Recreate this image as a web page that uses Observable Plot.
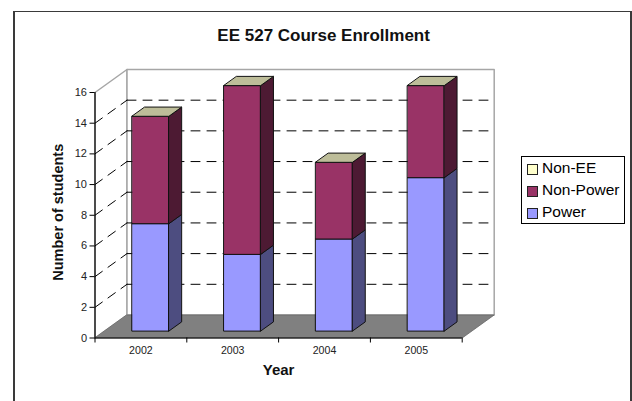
<!DOCTYPE html>
<html>
<head>
<meta charset="utf-8">
<style>
html,body{margin:0;padding:0;background:#fff;width:632px;height:401px;overflow:hidden}
#wrap{position:relative;width:632px;height:401px;font-family:"Liberation Sans",Arial,sans-serif}
#wrap svg{position:absolute;left:0;top:0;overflow:visible}
#border{position:absolute;left:13px;top:11px;width:615px;height:392px;border:2px solid #3a3a3a;border-top-width:1px}
#legend{position:absolute;left:521px;top:156px;width:102px;height:66px;border:1px solid #000;background:#fff;font-size:15.5px;color:#000}
#legend div{position:absolute;left:5px;white-space:nowrap;line-height:18px;height:18px}
#legend i{position:absolute;left:0;top:5px;width:9px;height:9px;border:1px solid #222}
#legend span{position:absolute;left:15px;top:0}
</style>
<script src="https://cdn.jsdelivr.net/npm/d3@7"></script>
<script src="https://cdn.jsdelivr.net/npm/@observablehq/plot@0.6"></script>
</head>
<body>
<div id="wrap"><div id="border"></div></div>
<script>
const years = ["2002", "2003", "2004", "2005"];
const power = [7, 5, 6, 10];
const nonPower = [7, 11, 5, 6];
const nonEE = [0, 0, 0, 0];
const yTicks = [0, 2, 4, 6, 8, 10, 12, 14, 16];
const gridTicks = [2, 4, 6, 8, 10, 12, 14];
const legendNames = ["Non-EE", "Non-Power", "Power"];

const series = [
  {name: "Power", values: power, front: "#9999FF", side: "#4D4D80"},
  {name: "Non-Power", values: nonPower, front: "#993366", side: "#4D1A33"},
  {name: "Non-EE", values: nonEE, front: "#FFFFCC", side: "#808066"}
];
const legendColors = ["#FFFFCC", "#993366", "#9999FF"];
const topColor = "#BDBD99";

// Oblique projection: depth d (0 front, 1 back) shifts in scale units.
const DX = 32 / 91.8, DY = 1.5;
const px = (u, d) => u + d * DX;
const py = (v, d) => v + d * DY;
const quad = (id, fill, pts) => pts.map(([u, v, d]) => ({id, fill, x: px(u, d), y: py(v, d)}));

const floor = quad("floor", "#808080", [[0,0,0],[4,0,0],[4,0,1],[0,0,1]]);
const walls = [
  ...quad("left", "#FFFFFF", [[0,0,0],[0,16,0],[0,16,1],[0,0,1]]),
  ...quad("back", "#FFFFFF", [[0,0,1],[0,16,1],[4,16,1],[4,0,1]])
];

const bars = [];
const B0 = 0.3, B1 = 0.7, D0 = 0.3, D1 = 0.7;
years.forEach((yr, i) => {
  let base = 0;
  const a = i + B0, b = i + B1;
  series.forEach(s => {
    const top = base + s.values[i];
    if (s.values[i] > 0) {
      bars.push(...quad(`${yr}-${s.name}-front`, s.front, [[a,base,D0],[b,base,D0],[b,top,D0],[a,top,D0]]));
      bars.push(...quad(`${yr}-${s.name}-side`, s.side, [[b,base,D0],[b,base,D1],[b,top,D1],[b,top,D0]]));
    }
    base = top;
  });
  bars.push(...quad(`${yr}-top`, topColor, [[a,base,D0],[b,base,D0],[b,base,D1],[a,base,D1]]));
});

const backGrid = gridTicks.flatMap(v => [[0, v, 1], [4, v, 1]].map(([u, w, d]) => ({id: v, x: px(u, d), y: py(w, d)})));
const sideGrid = gridTicks.flatMap(v => [[0, v, 0], [0, v, 1]].map(([u, w, d]) => ({id: v, x: px(u, d), y: py(w, d)})));

const chart = Plot.plot({
  width: 632, height: 401,
  marginLeft: 94.5, marginRight: 170.3, marginTop: 92, marginBottom: 63.5,
  style: {background: "transparent", fontFamily: '"Liberation Sans",Arial,sans-serif', overflow: "visible"},
  x: {domain: [0, 4]},
  y: {domain: [0, 16]},
  color: {type: "identity"},
  marks: [
    Plot.line(walls, {x: "x", y: "y", z: "id", fill: "fill", stroke: "#A6A6A6", strokeWidth: 1.5, curve: "linear-closed"}),
    Plot.line(backGrid, {x: "x", y: "y", z: "id", stroke: "#000", strokeWidth: 1, strokeDasharray: "9 7"}),
    Plot.line(sideGrid, {x: "x", y: "y", z: "id", stroke: "#000", strokeWidth: 1, strokeDasharray: "9 7"}),
    Plot.line(floor, {x: "x", y: "y", z: "id", fill: "fill", stroke: "#666", strokeWidth: 0.8, curve: "linear-closed"}),
    Plot.line(bars, {x: "x", y: "y", z: "id", fill: "fill", stroke: "#111", strokeWidth: 1, curve: "linear-closed"}),
    Plot.ruleY([0], {stroke: "#000", strokeWidth: 1.2}),
    Plot.axisY({ticks: yTicks, tickSize: 5, tickPadding: 3, fontSize: 11, stroke: "#000", label: null, fill: "#222"}),
    Plot.ruleX([0], {stroke: "#000", strokeWidth: 1.2}),
    Plot.axisX({ticks: [0, 1, 2, 3, 4], tickSize: 5, tickFormat: () => "", label: null}),
    Plot.axisX({ticks: years.map((_, i) => i + 0.5), tickFormat: (d) => years[d - 0.5], tickSize: 0, tickPadding: 8, fontSize: 10.6, label: null, fill: "#222"}),
    Plot.text(["EE 527 Course Enrollment"], {frameAnchor: "top", dx: 45, dy: -64, fontWeight: "bold", fontSize: 17, fill: "#111"}),
    Plot.text(["Number of students"], {frameAnchor: "left", textAnchor: "middle", dx: -37, dy: -3, rotate: -90, fontWeight: "bold", fontSize: 14.5, fill: "#111"}),
    Plot.text(["Year"], {frameAnchor: "bottom", dy: 37, fontWeight: "bold", fontSize: 15, letterSpacing: 1, fill: "#111"})
  ]
});
const wrap = document.getElementById("wrap");
wrap.insertBefore(chart, wrap.firstChild);

const legend = document.createElement("div");
legend.id = "legend";
legendNames.forEach((name, i) => {
  const row = document.createElement("div");
  row.style.top = (2 + i * 22) + "px";
  const sw = document.createElement("i");
  sw.style.background = legendColors[i];
  const lab = document.createElement("span");
  lab.textContent = name;
  row.append(sw, lab);
  legend.append(row);
});
wrap.append(legend);
</script>
</body>
</html>
